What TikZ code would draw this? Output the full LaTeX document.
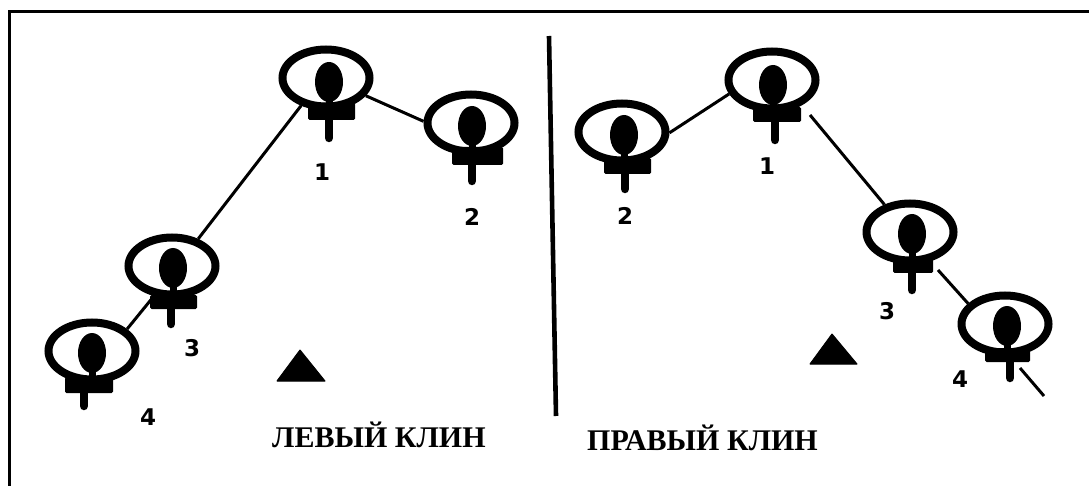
\documentclass[tikz,border=0pt]{standalone}
\usepackage{fontspec}
\setmainfont{Liberation Serif}
\newfontfamily\numfont{DejaVu Sans}
\usetikzlibrary{shapes.geometric}
\tikzset{
  x=1pt,y=-1pt,
  ring/.style={ellipse,draw=black,line width=8pt,minimum width=87pt,minimum height=57pt,inner sep=0pt},
  headshape/.style={ellipse,fill=black,minimum width=28pt,minimum height=40pt,inner sep=0pt},
  conn/.style={line width=3pt,black},
  numlabel/.style={font=\numfont\bfseries\fontsize{23}{23}\selectfont,inner sep=0pt,black},
  caption/.style={font=\bfseries\fontsize{30}{30}\selectfont,inner sep=0pt,anchor=base west,black},
  frameline/.style={line width=3.2pt,black},
  tri/.style={fill=black,line join=round,draw=black,line width=1pt},
}
% name, cx, cy, head x, head y, bar left, bar right, bar top, bar bottom
\newcommand{\playerfig}[9]{%
  \node[ring] (#1) at (#2,#3) {};
  \node[headshape] (#1h) at (#4,#5) {};
  \fill[black,rounded corners=1.5pt] (#6,#8-5) rectangle (#7,#9);
  \coordinate (#1b) at (#4,#8);
  \playerstem{#1}}
\newcommand{\playerstem}[1]{%
  \draw[line width=7pt,black] (#1h.center) -- (#1b);
  \draw[line width=8.5pt,line cap=round,black] (#1s |- #1b) -- (#1s);}
\begin{document}
\begin{tikzpicture}
\useasboundingbox (0,0) rectangle (1089,486);
\fill[white] (0,0) rectangle (1089,486);
% frame
\coordinate (f1) at (1089,11.5);
\coordinate (f2) at (9.3,11.5);
\coordinate (f3) at (9.3,486);
\draw[frameline,line join=miter] (f1) -- (f2) -- (f3);
% divider
\coordinate (d1) at (549,36);
\coordinate (d2) at (556,416);
\draw[line width=4.6pt,black] (d1) -- (d2);
% players: left wedge
\coordinate (L1s) at (329,138);
\playerfig{L1}{326}{78}{329}{82}{308}{355}{108}{120}
\coordinate (L2s) at (472,181);
\playerfig{L2}{471}{123}{472}{126}{452}{503}{152}{165}
\coordinate (L3s) at (171,324);
\playerfig{L3}{172}{266}{173}{268}{150}{197}{300}{309}
\coordinate (L4s) at (84,406);
\playerfig{L4}{92}{351}{92}{353}{65}{113}{382}{393}
% players: right wedge
\coordinate (R2s) at (625,189);
\playerfig{R2}{622}{132}{624}{135}{604}{651}{163}{174}
\coordinate (R1s) at (775,140);
\playerfig{R1}{772}{80}{773}{85}{753}{801}{112}{122}
\coordinate (R3s) at (912,290);
\playerfig{R3}{910}{232}{912}{234}{893}{933}{263}{273}
\coordinate (R4s) at (1010,378);
\playerfig{R4}{1005}{324}{1007}{326}{985}{1030}{353}{362}
% connectors
\coordinate (a1) at (810,115);
\coordinate (a2) at (938,270);
\coordinate (t1) at (1020,368);
\coordinate (t2) at (1044,396);
\draw[conn] (L1.-24) -- (L2.178);
\draw[conn] (L1.-132) -- (L3.46);
\draw[conn] (L3.-121) -- (L4.32);
\draw[conn] (R2.-1) -- (R1.-162);
\draw[conn] (a1) -- (R3.133);
\draw[conn] (a2) -- (R4.151);
\draw[conn] (t1) -- (t2);
% numbers
\node[numlabel] (nL1) at (322,172) {1};
\node[numlabel] (nL2) at (472,217) {2};
\node[numlabel] (nL3) at (192,348) {3};
\node[numlabel] (nL4) at (148,417) {4};
\node[numlabel] (nR1) at (767,166) {1};
\node[numlabel] (nR2) at (625,216) {2};
\node[numlabel] (nR3) at (887,311) {3};
\node[numlabel] (nR4) at (960,379) {4};
% cones
\fill[tri] (300,350) -- (325,381) -- (277,381) -- cycle;
\fill[tri] (832,334) -- (857,364) -- (810,364) -- cycle;
% captions
\node[caption] (capL) at (272,447) {ЛЕВЫЙ КЛИН};
\node[caption] (capR) at (587,450) {ПРАВЫЙ КЛИН};
\end{tikzpicture}
\end{document}
